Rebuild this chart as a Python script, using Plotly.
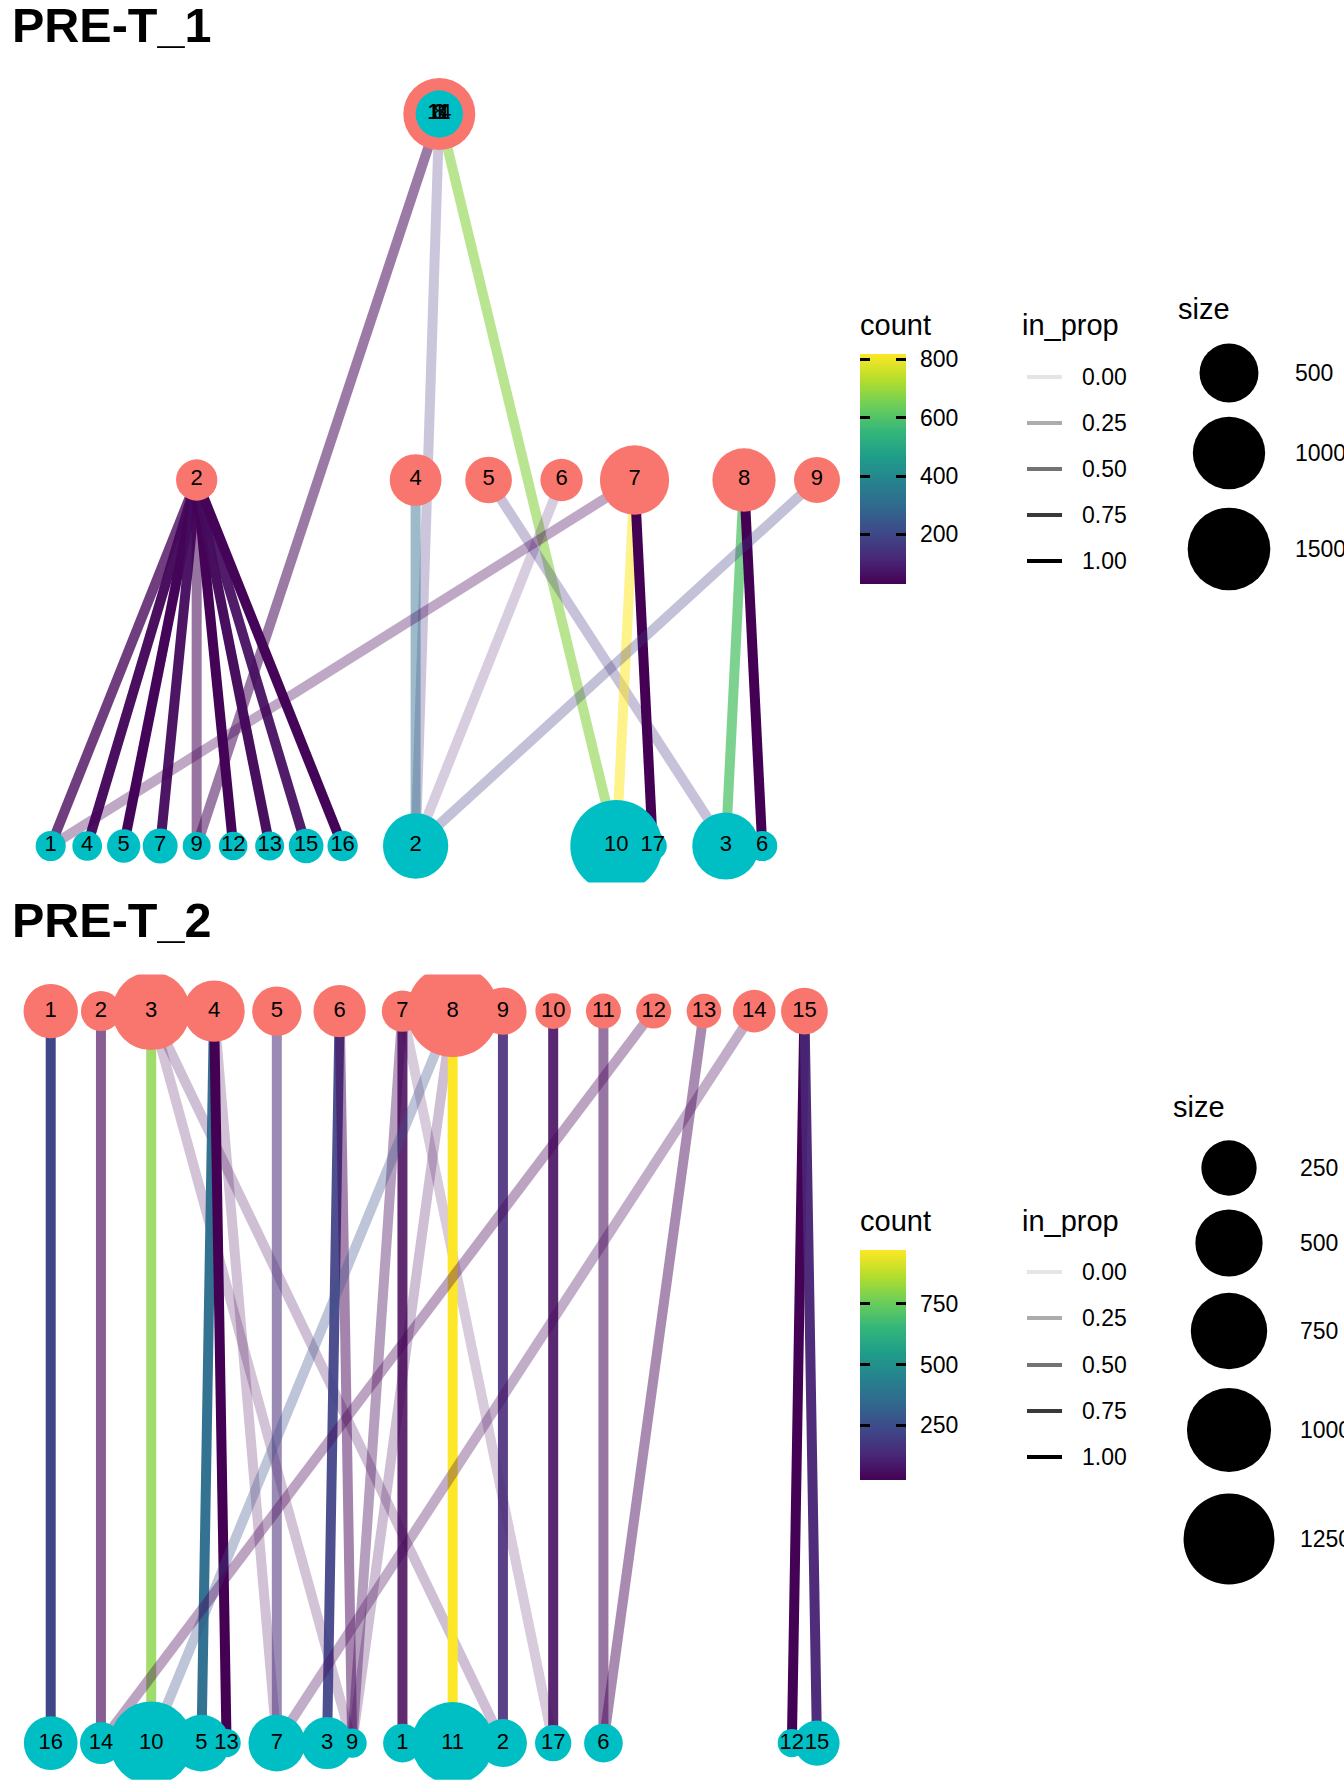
import re
import numpy as np
import plotly.graph_objects as go
from plotly.colors import get_colorscale, sample_colorscale

W, H = 1344, 1792
FONT = "Liberation Sans, Arial, sans-serif"
RED, TEAL = "#F8766D", "#00BFC4"
VIRIDIS = get_colorscale("Viridis")

# ---------------- data: PRE-T_1 ----------------
P1_RED_IDS = ["1", "2", "4", "5", "6", "7", "8", "9"]
P1_RED_X = [10.65, 4, 10, 12, 14, 16, 19, 21]
P1_RED_LAYER = [2, 1, 1, 1, 1, 1, 1, 1]
P1_RED_SIZE = [985, 104, 302, 194, 119, 871, 644, 181]

P1_TEAL_IDS = ["1", "2", "3", "4", "5", "6", "7", "8", "9", "10", "11", "12", "13", "14", "15", "16", "17"]
P1_TEAL_X = [0, 10, 18.5, 1, 2, 19.5, 3, 10.65, 4, 15.5, 10.65, 5, 6, 10.65, 7, 8, 16.5]
P1_TEAL_LAYER = [0, 0, 0, 0, 0, 0, 0, 2, 0, 0, 2, 0, 0, 2, 0, 0, 0]
P1_TEAL_SIZE = [6, 716, 780, 5, 22, 6, 34, 206, 1, 2040, 40, 2, 3, 20, 32, 7, 1]

P1_EDGE_FROM = ["1", "1", "1", "2", "2", "2", "2", "2", "2", "2", "2", "2", "4", "5", "6", "7", "7", "7", "8", "8", "9"]
P1_EDGE_TO = ["9", "2", "10", "1", "4", "5", "7", "9", "12", "13", "15", "16", "2", "3", "2", "1", "10", "17", "3", "6", "2"]
P1_EDGE_COUNT = [38, 148, 676, 35, 45, 40, 55, 30, 35, 50, 60, 40, 306, 150, 85, 30, 818, 30, 597, 30, 172]
P1_EDGE_INPROP = [0.48, 0.20, 0.55, 0.74, 0.97, 1.00, 0.95, 0.50, 1.00, 0.98, 0.93, 1.00, 0.41, 0.22, 0.13, 0.27, 0.48, 1.00, 0.71, 1.00, 0.24]

P1_COUNT_TICKS = [200, 400, 600, 800]
P1_SIZE_BREAKS = [500, 1000, 1500]

# ---------------- data: PRE-T_2 ----------------
P2_RED_IDS = ["1", "2", "3", "4", "5", "6", "7", "8", "9", "10", "11", "12", "13", "14", "15"]
P2_RED_X = [0, 2, 4, 6.5, 9, 11.5, 14, 16, 18, 20, 22, 24, 26, 28, 30]
P2_RED_LAYER = [1] * 15
P2_RED_SIZE = [233, 55, 799, 365, 157, 200, 66, 1292, 130, 25, 22, 22, 20, 79, 123]

P2_TEAL_IDS = ["1", "2", "3", "5", "6", "7", "9", "10", "11", "12", "13", "14", "15", "16", "17"]
P2_TEAL_X = [14, 18, 11, 6, 22, 9, 12, 4, 16, 29.5, 7, 2, 30.5, 0, 20]
P2_TEAL_LAYER = [0] * 15
P2_TEAL_SIZE = [45, 139, 196, 275, 45, 275, 2, 972, 928, 1, 1, 72, 106, 223, 29]

P2_EDGE_FROM = ["1", "2", "3", "3", "3", "4", "4", "4", "5", "6", "6", "7", "7", "7", "8", "8", "8", "9", "10", "11", "12", "13", "14", "15", "15"]
P2_EDGE_TO = ["16", "14", "10", "9", "2", "5", "13", "7", "7", "3", "9", "1", "9", "17", "10", "9", "11", "2", "17", "6", "14", "6", "7", "12", "15"]
P2_EDGE_COUNT = [230, 45, 802, 28, 30, 366, 25, 30, 139, 214, 30, 40, 35, 30, 260, 30, 972, 139, 60, 35, 25, 30, 30, 28, 120]
P2_EDGE_INPROP = [1.00, 0.61, 0.78, 0.15, 0.17, 0.97, 1.00, 0.16, 0.50, 0.92, 0.43, 0.84, 0.32, 0.12, 0.26, 0.17, 0.98, 0.88, 0.88, 0.50, 0.29, 0.40, 0.25, 1.00, 0.95]

P2_COUNT_TICKS = [250, 500, 750]
P2_SIZE_BREAKS = [250, 500, 750, 1000, 1250]

IN_PROP_BREAKS = [0.0, 0.25, 0.5, 0.75, 1.0]

# ---------------- scales ----------------
D_MIN, D_MAX = 26.5, 92.0
EDGE_WIDTH = 10


def node_diam(v, vmax):
    return D_MIN + (D_MAX - D_MIN) * np.sqrt(np.asarray(v, dtype=float) / vmax)


def edge_alpha(p):
    return 0.1 + 0.9 * p


def edge_colour(count, cmin, cmax, alpha):
    t = (count - cmin) / (cmax - cmin)
    s = sample_colorscale(VIRIDIS, [min(max(t, 0), 1)])[0]
    r, g, b = [float(v) for v in re.findall(r"[\d.]+", s)][:3]
    return f"rgba({r:.0f},{g:.0f},{b:.0f},{alpha:.3f})"


def pxx(p):
    return p / W


def pxy(p):
    return 1 - p / H


fig = go.Figure()
annotations = []
shapes = []

PANEL_X_PX = (12.4, 855.3)


def add_panel(suffix, red, teal, edges, y_px, layers):
    xa = "x" + suffix
    ya = "y" + suffix
    red_ids, red_x, red_l, red_s = red
    teal_ids, teal_x, teal_l, teal_s = teal
    e_from, e_to, e_cnt, e_prop = edges
    rpos = {i: (x, l) for i, x, l in zip(red_ids, red_x, red_l)}
    tpos = {i: (x, l) for i, x, l in zip(teal_ids, teal_x, teal_l)}
    cmin, cmax = min(e_cnt), max(e_cnt)
    for f, t, c, p in zip(e_from, e_to, e_cnt, e_prop):
        x0, y0 = rpos[f]
        x1, y1 = tpos[t]
        fig.add_trace(go.Scatter(
            x=[x0, x1], y=[y0, y1], mode="lines", xaxis=xa, yaxis=ya,
            line=dict(color=edge_colour(c, cmin, cmax, edge_alpha(p)), width=EDGE_WIDTH),
            hoverinfo="skip", showlegend=False))
    vmax = max(max(red_s), max(teal_s))
    fig.add_trace(go.Scatter(
        x=red_x, y=red_l, mode="markers", xaxis=xa, yaxis=ya,
        marker=dict(color=RED, size=node_diam(red_s, vmax), line=dict(width=0), opacity=1),
        hoverinfo="skip", showlegend=False))
    fig.add_trace(go.Scatter(
        x=teal_x, y=teal_l, mode="markers", xaxis=xa, yaxis=ya,
        marker=dict(color=TEAL, size=node_diam(teal_s, vmax), line=dict(width=0), opacity=1),
        hoverinfo="skip", showlegend=False))
    fig.add_trace(go.Scatter(
        x=list(red_x) + list(teal_x), y=list(red_l) + list(teal_l),
        text=list(red_ids) + list(teal_ids), mode="text", xaxis=xa, yaxis=ya,
        textposition="middle center", textfont=dict(family=FONT, size=22, color="black"),
        hoverinfo="skip", showlegend=False))
    allx = list(red_x) + list(teal_x)
    lo, hi = min(allx), max(allx)
    pad = 0.05 * (hi - lo)
    ypad = 0.05 * (max(layers) - min(layers))
    key = "xaxis" + suffix if suffix else "xaxis"
    keyy = "yaxis" + suffix if suffix else "yaxis"
    fig.layout[key] = dict(domain=[pxx(PANEL_X_PX[0]), pxx(PANEL_X_PX[1])], range=[lo - pad, hi + pad],
                           visible=False, anchor=ya)
    fig.layout[keyy] = dict(domain=[pxy(y_px[1]), pxy(y_px[0])],
                            range=[min(layers) - ypad, max(layers) + ypad], visible=False, anchor=xa)
    return cmin, cmax, vmax


def add_colourbar(suffix, cmin, cmax, ticks, top_px, bottom_px):
    xa, ya = "x" + suffix, "y" + suffix
    grad = np.linspace(cmin, cmax, 256)
    fig.add_trace(go.Heatmap(x=[0], y=grad, z=[[v] for v in grad], colorscale="Viridis",
                             zmin=cmin, zmax=cmax, showscale=False, xaxis=xa, yaxis=ya,
                             hoverinfo="skip"))
    fig.layout["xaxis" + suffix] = dict(domain=[pxx(860), pxx(906)], range=[-0.5, 0.5],
                                        visible=False, anchor=ya)
    fig.layout["yaxis" + suffix] = dict(domain=[pxy(bottom_px), pxy(top_px)], range=[cmin, cmax],
                                        anchor=xa, side="right", tickvals=ticks, ticks="inside",
                                        ticklen=10, tickwidth=2.6, tickcolor="black", mirror="ticks",
                                        showline=False, showgrid=False, zeroline=False,
                                        ticklabelstandoff=13,
                                        tickfont=dict(family=FONT, size=23, color="black"))


def text(x, y, s, size=23, bold=False):
    annotations.append(dict(x=pxx(x), y=pxy(y), xref="paper", yref="paper", text=f"<b>{s}</b>" if bold else s,
                            showarrow=False, xanchor="left", yanchor="middle",
                            font=dict(family=FONT, size=size, color="black")))


def add_legends(title_y, size_title, line_ys, circle_ys, size_label_x, breaks, vmax):
    text(858, title_y, "count", 29)
    text(1020, title_y, "in_prop", 29)
    text(size_title[0], size_title[1], "size", 29)
    for v, y in zip(IN_PROP_BREAKS, line_ys):
        shapes.append(dict(type="line", xref="paper", yref="paper", x0=pxx(1027), x1=pxx(1062),
                           y0=pxy(y), y1=pxy(y),
                           line=dict(color=f"rgba(0,0,0,{edge_alpha(v):.3f})", width=4)))
        text(1080, y, f"{v:.2f}", 23)
    for b, y in zip(breaks, circle_ys):
        r = float(node_diam(b, vmax)) / 2
        cx = 1229
        shapes.append(dict(type="circle", xref="paper", yref="paper",
                           x0=pxx(cx - r), x1=pxx(cx + r), y0=pxy(y + r), y1=pxy(y - r),
                           fillcolor="black", line=dict(width=0)))
        text(size_label_x, y, str(b), 23)


c1min, c1max, v1max = add_panel(
    "", (P1_RED_IDS, P1_RED_X, P1_RED_LAYER, P1_RED_SIZE),
    (P1_TEAL_IDS, P1_TEAL_X, P1_TEAL_LAYER, P1_TEAL_SIZE),
    (P1_EDGE_FROM, P1_EDGE_TO, P1_EDGE_COUNT, P1_EDGE_INPROP),
    (77.4, 882.6), [0, 1, 2])
c2min, c2max, v2max = add_panel(
    "2", (P2_RED_IDS, P2_RED_X, P2_RED_LAYER, P2_RED_SIZE),
    (P2_TEAL_IDS, P2_TEAL_X, P2_TEAL_LAYER, P2_TEAL_SIZE),
    (P2_EDGE_FROM, P2_EDGE_TO, P2_EDGE_COUNT, P2_EDGE_INPROP),
    (974.5, 1779.7), [0, 1])

add_colourbar("3", c1min, c1max, P1_COUNT_TICKS, 354, 584)
add_colourbar("4", c2min, c2max, P2_COUNT_TICKS, 1250, 1480)

add_legends(325, (1176, 309), [377, 423, 469, 515, 561], [373, 453, 549], 1293, P1_SIZE_BREAKS, v1max)
add_legends(1221, (1171, 1107), [1272, 1318, 1365, 1411, 1457], [1168, 1243, 1331, 1430, 1539], 1298,
            P2_SIZE_BREAKS, v2max)

text(10, 25, "PRE-T_1", 48.5, bold=True)
text(10, 920, "PRE-T_2", 48.5, bold=True)

fig.update_layout(width=W, height=H, margin=dict(l=0, r=0, t=0, b=0),
                  paper_bgcolor="white", plot_bgcolor="rgba(0,0,0,0)", template="none",
                  showlegend=False, hovermode=False, annotations=annotations, shapes=shapes,
                  font=dict(family=FONT))

fig.write_html("out.html", config={"displayModeBar": False},
               post_script="document.body.style.margin='0px';document.body.style.overflow='hidden';")
